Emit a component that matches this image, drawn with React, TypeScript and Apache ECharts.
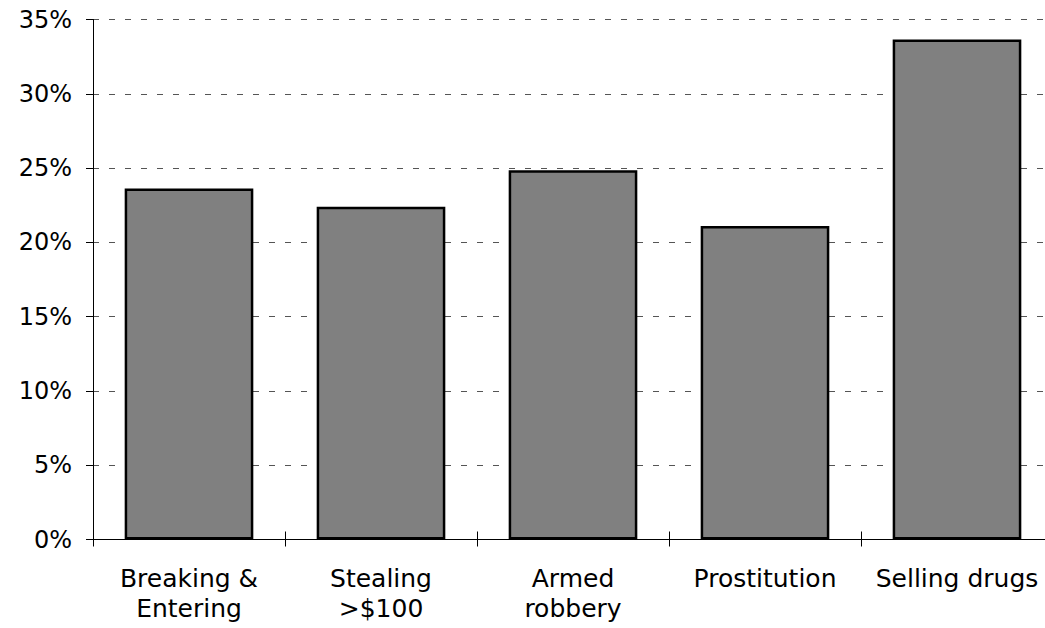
import React, { useEffect, useRef } from "react";
import * as echarts from "echarts";

const categories = ["Breaking &\nEntering", "Stealing\n>$100", "Armed\nrobbery", "Prostitution", "Selling drugs"];
const values = [23.63, 22.4, 24.86, 21.1, 33.66];
const yTicks = { min: 0, max: 35, interval: 5 };

export default function App() {
  const ref = useRef<HTMLDivElement>(null);
  useEffect(() => {
    if (!ref.current) return;
    const chart = echarts.init(ref.current, null, { renderer: "svg" });
    chart.setOption({
      animation: false,
      backgroundColor: "#ffffff",
      grid: {
        left: 93,
        top: 19.5,
        width: 960,
        height: 520,
        containLabel: false,
        outerBoundsMode: "none",
      },
      xAxis: [
        {
          type: "category",
          data: categories,
          position: "bottom",
          axisLine: { show: true, lineStyle: { color: "#000", width: 1 } },
          axisTick: { show: true, inside: false, length: 7, lineStyle: { color: "#000", width: 1 } },
          axisLabel: {
            interval: 0,
            color: "#000",
            fontFamily: "DejaVu Sans",
            fontSize: 25,
            lineHeight: 30,
            margin: 24,
          },
          splitLine: { show: false },
        },
        {
          type: "category",
          data: categories,
          position: "bottom",
          axisLine: { show: false },
          axisTick: { show: true, inside: true, length: 8, lineStyle: { color: "#000", width: 1 } },
          axisLabel: { show: false },
          splitLine: { show: false },
        },
      ],
      yAxis: {
        type: "value",
        min: yTicks.min,
        max: yTicks.max,
        interval: yTicks.interval,
        axisLine: { show: true, lineStyle: { color: "#000", width: 1 } },
        axisTick: { show: true, inside: false, length: 7, lineStyle: { color: "#000", width: 1 } },
        axisLabel: {
          color: "#000",
          fontFamily: "DejaVu Sans",
          fontSize: 24,
          margin: 21,
          formatter: "{value}%",
        },
        splitLine: { show: true, lineStyle: { color: "#555", width: 1, type: [6, 10] } },
      },
      series: [
        {
          type: "bar",
          xAxisIndex: 0,
          data: values,
          barCategoryGap: "33%",
          itemStyle: { color: "#808080", borderColor: "#000", borderWidth: 2.5 },
        },
        {
          type: "bar",
          xAxisIndex: 1,
          data: [],
          silent: true,
        },
      ],
    });
    return () => chart.dispose();
  }, []);
  return (
    <div
      ref={ref}
      style={{ position: "fixed", left: 0, top: 0, width: 1045, height: 628 }}
    />
  );
}
